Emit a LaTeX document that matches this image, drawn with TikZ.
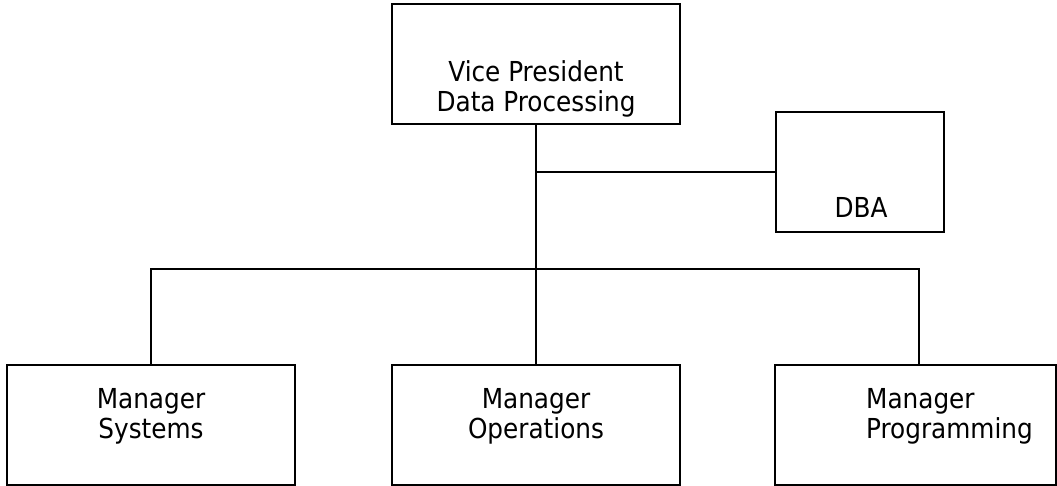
\documentclass[tikz,border=0pt]{standalone}
\usepackage{fontspec}
\setmainfont{DejaVu Sans Condensed}
\begin{document}
\begin{tikzpicture}[x=1pt,y=-1pt,
  box/.style={draw=black,line width=1.8pt,rectangle,inner sep=0pt},
  lbl/.style={inner sep=0pt,font=\fontsize{27.5}{30}\selectfont,align=center},
  wire/.style={draw=black,line width=1.8pt}]
\useasboundingbox (0,0) rectangle (1057,486);
% boxes
\node[box,minimum width=288pt,minimum height=120pt] (vp) at (536,64) {};
\node[box,minimum width=168pt,minimum height=120pt] (dba) at (860,172) {};
\node[box,minimum width=288pt,minimum height=120pt] (ms) at (151,425) {};
\node[box,minimum width=288pt,minimum height=120pt] (mo) at (536,425) {};
\node[box,minimum width=281pt,minimum height=120pt] (mp) at (915.5,425) {};
% texts
\node[lbl] (tvp) at (536,88.5) {Vice President\\Data Processing};
\node[lbl,anchor=base] (tdba) at (861,218) {DBA};
\node[lbl] (tms) at (151,416.5) {Manager\\Systems};
\node[lbl] (tmo) at (536,416.5) {Manager\\Operations};
\node[lbl,align=left,anchor=west] (tmp) at (866,416.5) {Manager\\Programming};
% connectors
\coordinate (busL) at (151,269);
\coordinate (busR) at (919,269);
\draw[wire] (vp.south) -- (mo.north);
\draw[wire] (vp.south |- dba.west) -- (dba.west);
\draw[wire] (ms.north) -- (busL) -- (busR) -- (busR |- mp.north);
\end{tikzpicture}
\end{document}
